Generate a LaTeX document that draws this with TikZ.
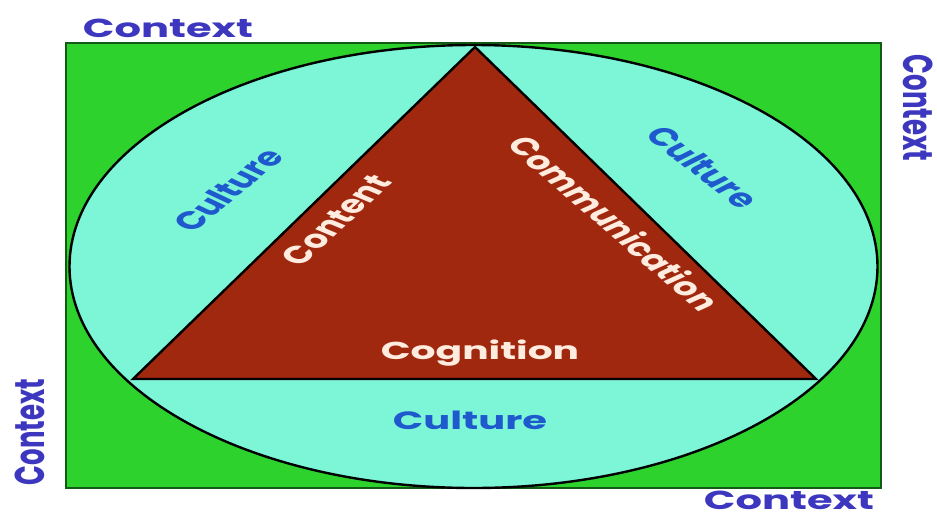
\documentclass[tikz,border=0pt]{standalone}
\usepackage{fontspec}
\setmainfont{Poppins}
\definecolor{bggreen}{RGB}{45,210,45}
\definecolor{edgegreen}{RGB}{20,90,20}
\definecolor{aqua}{RGB}{125,245,215}
\definecolor{brick}{RGB}{160,40,15}
\definecolor{ctxblue}{RGB}{60,55,190}
\definecolor{culblue}{RGB}{30,90,205}
\definecolor{cream}{RGB}{255,236,222}
\tikzset{
  ctx/.style={text=ctxblue, font=\fontsize{26}{29}\selectfont\bfseries, inner sep=0pt, transform shape},
  cul/.style={text=culblue, font=\fontsize{25}{28}\selectfont\bfseries, inner sep=0pt, transform shape},
  inner/.style={text=cream, font=\fontsize{24.5}{28}\selectfont\bfseries, inner sep=0pt, transform shape},
}
\begin{document}
\begin{tikzpicture}[x=1pt,y=-1pt]
\useasboundingbox (0,0) rectangle (937,515);
\fill[white] (0,0) rectangle (937,515);
% frame
\draw[fill=bggreen, draw=edgegreen, line width=2pt] (66,43) rectangle (881,488);
% ellipse
\draw[fill=aqua, draw=black, line width=2.4pt] (473.5,266.5) ellipse [x radius=404, y radius=221.5];
% triangle
\coordinate (top) at (475,47);
\coordinate (bl) at (133,379);
\coordinate (br) at (816,379);
\draw[fill=brick, draw=black, line width=2.4pt, line join=miter] (top) -- (br) -- (bl) -- cycle;
% Context labels
\begin{scope}[shift={(168,28)}, xscale=1.6]
  \node[ctx] (ctxtop) at (0,0) {Context};
\end{scope}
\begin{scope}[shift={(789,500)}, xscale=1.6]
  \node[ctx] (ctxbot) at (0,0) {Context};
\end{scope}
\begin{scope}[shift={(918,108)}, xscale=1.6]
  \node[ctx, rotate=-90] (ctxright) at (0,0) {Context};
\end{scope}
\begin{scope}[shift={(30,432)}, xscale=1.6]
  \node[ctx, rotate=90] (ctxleft) at (0,0) {Context};
\end{scope}
% Culture labels
\begin{scope}[shift={(228,190)}, xscale=1.6]
  \node[cul, rotate=53] (culleft) at (0,0) {Culture};
\end{scope}
\begin{scope}[shift={(703,167)}, xscale=1.6]
  \node[cul, rotate=-51] (culright) at (0,0) {Culture};
\end{scope}
\begin{scope}[shift={(470,420)}, xscale=1.6]
  \node[cul] (culbot) at (0,0) {Culture};
\end{scope}
% triangle labels
\begin{scope}[shift={(336,220)}, xscale=1.6]
  \node[inner, rotate=56] (content) at (0,0) {Content};
\end{scope}
\begin{scope}[shift={(615,223)}, xscale=1.6]
  \node[inner, rotate=-54] (comm) at (0,0) {Communication};
\end{scope}
\begin{scope}[shift={(480,353)}, xscale=1.6]
  \node[inner] (cog) at (0,0) {Cognition};
\end{scope}
\end{tikzpicture}
\end{document}
